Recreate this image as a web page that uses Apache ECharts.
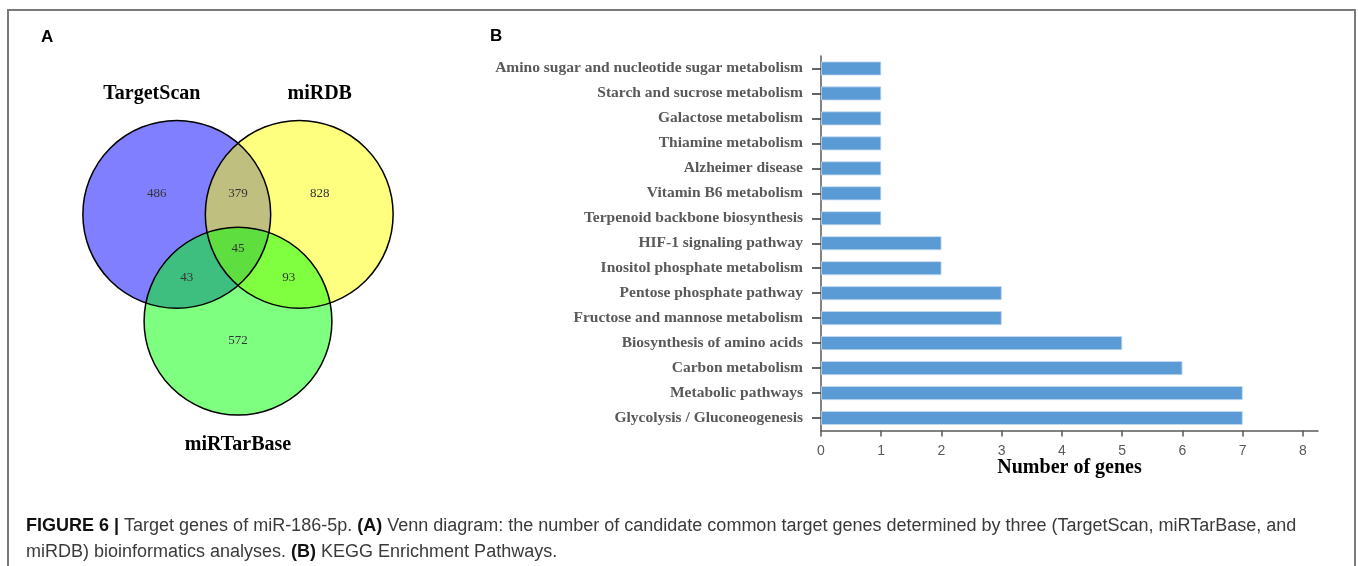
<!DOCTYPE html>
<html><head><meta charset="utf-8">
<script src="https://cdn.jsdelivr.net/npm/echarts@6/dist/echarts.min.js"></script>
<style>html,body{margin:0;padding:0;background:#fff}#c{width:1358px;height:566px}</style>
</head><body><div id="c"></div>
<script>
// ---- data ----
const pathways = [
  'Amino sugar and nucleotide sugar metabolism',
  'Starch and sucrose metabolism',
  'Galactose metabolism',
  'Thiamine metabolism',
  'Alzheimer disease',
  'Vitamin B6 metabolism',
  'Terpenoid backbone biosynthesis',
  'HIF-1 signaling pathway',
  'Inositol phosphate metabolism',
  'Pentose phosphate pathway',
  'Fructose and mannose metabolism',
  'Biosynthesis of amino acids',
  'Carbon metabolism',
  'Metabolic pathways',
  'Glycolysis / Gluconeogenesis'
];
const geneCounts = [1, 1, 1, 1, 1, 1, 1, 2, 2, 3, 3, 5, 6, 7, 7];
const xTicks = [0, 1, 2, 3, 4, 5, 6, 7, 8];

const setNames = ['TargetScan', 'miRDB', 'miRTarBase'];
const regionNames = ['TargetScan only', 'TargetScan & miRDB', 'miRDB only', 'All three',
                     'TargetScan & miRTarBase', 'miRDB & miRTarBase', 'miRTarBase only'];
const regionCounts = [486, 379, 828, 45, 43, 93, 572];

// ---- layout (Venn geometry in unit-radius space) ----
const circleCenters = [[-0.652, 0.38], [0.652, 0.38], [0, -0.758]];
const circleFills = ['rgba(0,0,255,0.5)', 'rgba(255,255,0,0.5)', 'rgba(0,255,0,0.5)'];
const regionPos = [[-0.864, 0.598], [0, 0.598], [0.87, 0.598], [0, 0.013],
                   [-0.545, -0.296], [0.54, -0.296], [0, -0.967]];
const setNamePos = [[-0.917, 1.66], [0.87, 1.66], [0, -2.07]];

const chart = echarts.init(document.getElementById('c'));

const circleData = setNames.map((n, i) => ({ name: n, value: [circleCenters[i][0], circleCenters[i][1], i] }));

function circleRender(fillMode) {
  return function (params, api) {
    const c = api.coord([api.value(0), api.value(1)]);
    const r = api.size([1, 0])[0];
    const i = api.value(2);
    return {
      type: 'circle',
      shape: { cx: c[0], cy: c[1], r: r },
      style: fillMode ? { fill: circleFills[i], stroke: null }
                      : { fill: null, stroke: '#000', lineWidth: 1.5 }
    };
  };
}

const option = {
  animation: false,
  backgroundColor: '#fff',
  title: [
    { text: 'A', left: 41, top: 29, padding: 0, textStyle: { fontFamily: 'Liberation Sans', fontWeight: 'bold', fontSize: 17, color: '#000' } },
    { text: 'B', left: 490, top: 28, padding: 0, textStyle: { fontFamily: 'Liberation Sans', fontWeight: 'bold', fontSize: 17, color: '#000' } },
    {
      left: 26, top: 513, padding: 0,
      text: '{b|FIGURE 6 |} Target genes of miR-186-5p. {b|(A)} Venn diagram: the number of candidate common target genes determined by three (TargetScan, miRTarBase, and\nmiRDB) bioinformatics analyses. {b|(B)} KEGG Enrichment Pathways.',
      textStyle: {
        fontFamily: 'Liberation Sans', fontSize: 18, color: '#3a3a3a', fontWeight: 'normal', lineHeight: 26,
        rich: { b: { fontFamily: 'Liberation Sans', fontSize: 18, fontWeight: 'bold', color: '#111', lineHeight: 26 } }
      }
    }
  ],
  graphic: [
    { type: 'rect', silent: true, shape: { x: 8, y: 10, width: 1347, height: 620 },
      style: { fill: null, stroke: '#7a7a7a', lineWidth: 2 } }
  ],
  grid: [
    { left: 821, top: 56, right: 40, bottom: 135.5 },
    { left: 22, top: 34, width: 432, height: 432 }
  ],
  xAxis: [
    {
      gridIndex: 0, type: 'value', min: 0, max: 8.25, interval: 1,
      axisLine: { show: true, lineStyle: { color: '#595959', width: 1.5 } },
      axisTick: { show: true, length: 6, customValues: xTicks, lineStyle: { color: '#595959', width: 1.5 } },
      axisLabel: { customValues: xTicks, color: '#595959', fontFamily: 'Liberation Sans', fontSize: 14, margin: 14 },
      splitLine: { show: false },
      name: 'Number of genes', nameLocation: 'middle', nameGap: 27, nameMoveOverlap: false,
      nameTextStyle: { fontFamily: 'Liberation Serif', fontWeight: 'bold', fontSize: 20, color: '#000' }
    },
    { gridIndex: 1, type: 'value', min: -2.3, max: 2.3, show: false }
  ],
  yAxis: [
    {
      gridIndex: 0, type: 'category', data: pathways, inverse: true,
      axisLine: { show: true, lineStyle: { color: '#595959', width: 1.5 } },
      axisTick: { show: true, alignWithLabel: true, length: 9, lineStyle: { color: '#333', width: 1.5 } },
      axisLabel: { color: '#595959', fontFamily: 'Liberation Serif', fontWeight: 'bold', fontSize: 15.5, margin: 18 },
      splitLine: { show: false }
    },
    { gridIndex: 1, type: 'value', min: -2.3, max: 2.3, show: false }
  ],
  series: [
    {
      type: 'bar', xAxisIndex: 0, yAxisIndex: 0, data: geneCounts, barWidth: '56%',
      itemStyle: { color: '#5B9BD5', borderColor: '#C6DCF0', borderWidth: 0.8 }
    },
    {
      type: 'custom', xAxisIndex: 1, yAxisIndex: 1, clip: false, z: 2,
      data: circleData, renderItem: circleRender(true)
    },
    {
      type: 'custom', xAxisIndex: 1, yAxisIndex: 1, clip: false, z: 3,
      data: circleData, renderItem: circleRender(false)
    },
    {
      type: 'custom', xAxisIndex: 1, yAxisIndex: 1, clip: false, z: 4,
      data: regionCounts.map((v, i) => ({ name: regionNames[i], value: [regionPos[i][0], regionPos[i][1], v] })),
      renderItem: function (params, api) {
        const c = api.coord([api.value(0), api.value(1)]);
        return { type: 'text', x: c[0], y: c[1],
          style: { text: String(api.value(2)), align: 'center', verticalAlign: 'middle',
                   fontFamily: 'Liberation Serif', fontSize: 13, fill: '#333' } };
      }
    },
    {
      type: 'custom', xAxisIndex: 1, yAxisIndex: 1, clip: false, z: 4,
      data: setNames.map((n, i) => ({ name: n, value: [setNamePos[i][0], setNamePos[i][1], i] })),
      renderItem: function (params, api) {
        const c = api.coord([api.value(0), api.value(1)]);
        return { type: 'text', x: c[0], y: c[1],
          style: { text: setNames[api.value(2)], align: 'center', verticalAlign: 'middle',
                   fontFamily: 'Liberation Serif', fontWeight: 'bold', fontSize: 20, fill: '#000' } };
      }
    }
  ]
};
chart.setOption(option);
</script>
</body></html>
